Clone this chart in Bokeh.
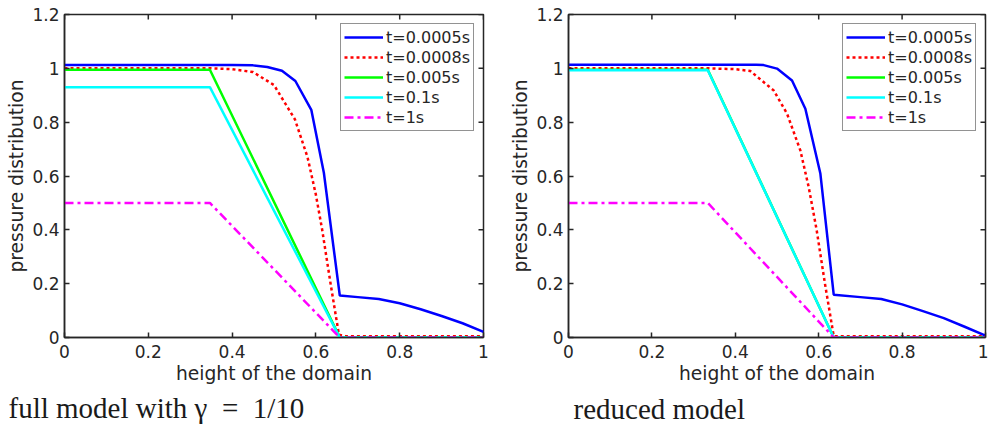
import math
from bokeh.plotting import figure
from bokeh.layouts import row
from bokeh.models import (FixedTicker, NumeralTickFormatter, Legend,
                          LegendItem, Title, Range1d)
from bokeh.embed import file_html
from bokeh.resources import INLINE

# ---------------- data ----------------
series_labels = ["t=0.0005s", "t=0.0008s", "t=0.005s", "t=0.1s", "t=1s"]
x_ticks = [0, 0.2, 0.4, 0.6, 0.8, 1.0]
y_ticks = [0, 0.2, 0.4, 0.6, 0.8, 1.0, 1.2]

# full model (left)
full_blue_x = [0, 0.40, 0.45, 0.484, 0.519, 0.551, 0.589, 0.619, 0.657, 0.70, 0.75, 0.80, 0.85, 0.90, 0.95, 1.0]
full_blue_y = [1.012, 1.012, 1.011, 1.005, 0.991, 0.953, 0.846, 0.612, 0.156, 0.150, 0.143, 0.127, 0.105, 0.080, 0.053, 0.021]
full_red_x = [0, 0.35, 0.40, 0.45, 0.50, 0.55, 0.58, 0.60, 0.615, 0.635, 0.655, 0.67, 1.0]
full_red_y = [1.0, 1.0, 0.997, 0.986, 0.938, 0.81, 0.67, 0.53, 0.40, 0.20, 0.01, 0.005, 0.005]
full_green_x = [0, 0.347, 0.657, 1.0]
full_green_y = [0.995, 0.995, 0.0, 0.0]
full_cyan_x = [0, 0.347, 0.657, 1.0]
full_cyan_y = [0.93, 0.93, 0.0, 0.0]
full_mag_x = [0, 0.347, 0.657, 1.0]
full_mag_y = [0.5, 0.5, 0.0, 0.0]

# reduced model (right)
red_blue_x = [0, 0.40, 0.45, 0.468, 0.50, 0.536, 0.568, 0.604, 0.636, 0.70, 0.75, 0.80, 0.85, 0.90, 0.95, 1.0]
red_blue_y = [1.013, 1.013, 1.013, 1.012, 0.999, 0.955, 0.85, 0.609, 0.159, 0.150, 0.143, 0.123, 0.098, 0.072, 0.040, 0.007]
red_red_x = [0, 0.336, 0.40, 0.436, 0.492, 0.524, 0.556, 0.576, 0.595, 0.615, 0.636, 0.65, 1.0]
red_red_y = [1.0, 1.0, 0.997, 0.99, 0.918, 0.832, 0.695, 0.559, 0.40, 0.20, 0.005, 0.005, 0.005]
red_green_x = [0, 0.334, 0.636, 1.0]
red_green_y = [0.995, 0.995, 0.0, 0.0]
red_cyan_x = [0, 0.334, 0.636, 1.0]
red_cyan_y = [0.993, 0.993, 0.0, 0.0]
red_mag_x = [0, 0.334, 0.636, 1.0]
red_mag_y = [0.5, 0.5, 0.0, 0.0]

captions = ["full model with \u03b3\u2002=\u20021/10", "reduced model"]
x_label = "height of the domain"
y_label = "pressure distribution"

# ---------------- styling ----------------
DARK = "#262626"
FONT = "DejaVu Sans"
colors = ["#0000ff", "#ff0000", "#00ff00", "#00ffff", "#ff00ff"]
dashes = ["solid", "3 3", "solid", "solid", "9 4 3 4"]


def make_panel(series, caption, min_left, min_right, min_bottom, cap_offset, cap_standoff):
    p = figure(width=494, height=439, output_backend="svg", toolbar_location=None,
               x_range=Range1d(0, 1), y_range=Range1d(0, 1.2),
               min_border_left=min_left, min_border_right=min_right,
               min_border_top=14, min_border_bottom=min_bottom)
    p.xgrid.visible = False
    p.ygrid.visible = False
    p.outline_line_color = DARK
    p.outline_line_width = 1.5
    p.background_fill_color = "white"
    p.border_fill_color = "white"

    items = []
    for (xs, ys), lab, c, d in zip(series, series_labels, colors, dashes):
        r = p.line(xs, ys, line_color=c, line_width=2.5, line_dash=d)
        items.append(LegendItem(label=lab, renderers=[r]))

    # inward ticks on the top and right edges of the box
    p.ray(x=x_ticks, y=[y_ticks[-1]] * len(x_ticks), length=5, length_units="screen",
          angle=-math.pi / 2, line_color=DARK, line_width=1.5)
    p.ray(x=[x_ticks[-1]] * len(y_ticks), y=y_ticks, length=5, length_units="screen",
          angle=math.pi, line_color=DARK, line_width=1.5)

    for ax in (p.xaxis[0], p.yaxis[0]):
        ax.axis_line_color = DARK
        ax.axis_line_width = 1.5
        ax.major_tick_line_color = DARK
        ax.major_tick_line_width = 1.5
        ax.major_tick_in = 5
        ax.major_tick_out = 0
        ax.minor_tick_line_color = None
        ax.major_label_text_font = FONT
        ax.major_label_text_font_size = "17px"
        ax.major_label_text_color = DARK
        ax.axis_label_text_font = FONT
        ax.axis_label_text_font_size = "18.7px"
        ax.axis_label_text_font_style = "normal"
        ax.axis_label_text_color = DARK
        ax.formatter = NumeralTickFormatter(format="0.[0]")
    p.xaxis[0].ticker = FixedTicker(ticks=x_ticks)
    p.yaxis[0].ticker = FixedTicker(ticks=y_ticks)
    p.xaxis[0].axis_label = x_label
    p.yaxis[0].axis_label = y_label
    p.xaxis[0].major_label_standoff = 7
    p.xaxis[0].axis_label_standoff = 2
    p.yaxis[0].major_label_standoff = 5
    p.yaxis[0].axis_label_standoff = 2

    legend = Legend(items=items, location="top_right", margin=9, padding=3,
                    spacing=0, glyph_width=39, glyph_height=20, label_height=20,
                    label_standoff=3, label_text_font=FONT, label_text_font_size="16px",
                    label_text_color=DARK, border_line_color=DARK, border_line_width=1.5,
                    background_fill_color="white", background_fill_alpha=1.0)
    p.add_layout(legend)

    t = Title(text=caption, align="left", vertical_align="top", offset=cap_offset,
              standoff=cap_standoff, text_font="Liberation Serif", text_font_size="29px",
              text_font_style="normal", text_color="#1a1a1a")
    p.add_layout(t, "below")
    return p


left_series = [(full_blue_x, full_blue_y), (full_red_x, full_red_y),
               (full_green_x, full_green_y), (full_cyan_x, full_cyan_y),
               (full_mag_x, full_mag_y)]
right_series = [(red_blue_x, red_blue_y), (red_red_x, red_red_y),
                (red_green_x, red_green_y), (red_cyan_x, red_cyan_y),
                (red_mag_x, red_mag_y)]

p1 = make_panel(left_series, captions[0], 64, 11, 100, -56, 10)
p2 = make_panel(right_series, captions[1], 74, 3, 102, 5, 13)

layout = row(p1, p2)
open("out.html", "w").write(file_html(layout, INLINE))
